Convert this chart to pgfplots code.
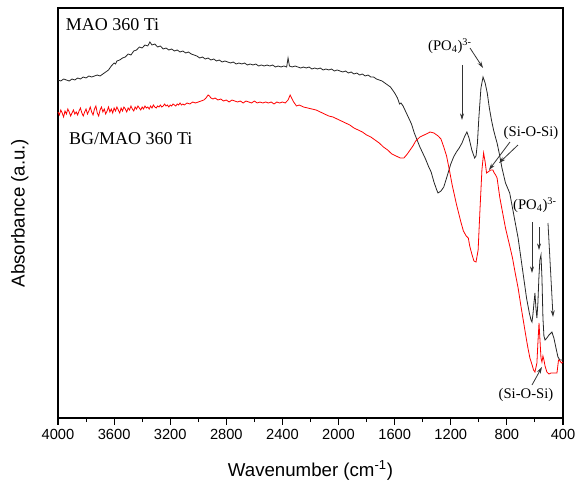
\documentclass[border=0pt]{standalone}
\usepackage{fontspec}
\setmainfont{Liberation Serif}
\setsansfont{Liberation Sans}
\usepackage{pgfplots}
\pgfplotsset{compat=1.18}
\usetikzlibrary{arrows.meta}

% FTIR spectra, y in arbitrary units
\pgfplotstableread{
w y
4000 338
3980 337
3960 339
3940 338
3920 337
3900 339
3880 338
3860 340
3840 339
3820 341
3800 340
3780 342
3760 341
3740 342
3720 343
3700 342
3680 344
3660 346
3640 348
3620 352
3600 355
3590 354
3580 357
3560 358
3540 360
3520 361
3500 364
3480 363
3460 367
3440 368
3420 371
3400 370
3380 373
3360 372
3345 376
3330 373
3310 374
3290 371
3270 372
3250 369
3230 370
3210 368
3190 369
3170 367
3150 368
3130 366
3110 367
3090 365
3070 366
3050 364
3030 363
3010 362
2990 360
2970 361
2950 359
2930 360
2910 358
2890 359
2870 357
2850 358
2830 356
2810 357
2790 356
2770 355
2750 356
2730 354
2710 355
2690 354
2670 355
2650 353
2630 354
2610 353
2590 354
2570 352
2550 353
2530 352
2510 353
2490 352
2470 353
2450 351
2430 352
2410 351
2390 352
2370 351
2360 360
2350 352
2330 351
2310 352
2290 351
2270 350
2250 351
2230 350
2210 351
2190 349
2170 350
2150 349
2130 350
2110 348
2090 349
2070 348
2050 349
2030 347
2010 348
1990 347
1970 346
1950 347
1930 345
1910 346
1890 344
1870 345
1850 343
1830 344
1810 342
1790 343
1770 341
1750 341
1730 339
1710 338
1690 337
1660 334
1630 331
1600 325
1580 320
1565 314
1555 315
1540 312
1520 306
1500 300
1480 294
1460 285
1440 278
1420 271
1400 265
1380 259
1360 252
1340 246
1320 236
1300 228
1291 225
1270 227
1250 231
1230 240
1200 254
1180 261
1160 266
1140 270
1120 275
1100 282
1085 286
1070 280
1050 268
1030 260
1020 262
1010 275
1000 300
985 330
970 341
955 335
940 325
925 310
910 298
895 288
880 280
870 275
855 265
835 250
810 235
780 225
760 210
740 195
720 180
700 160
680 140
660 120
640 105
628 98
621 96
614 104
607 115
600 125
593 110
586 100
579 115
572 140
565 158
557 163
550 140
543 100
536 82
528 78
515 80
500 83
479 86
465 80
450 70
436 61
422 58
400 58
}\maoti

\pgfplotstableread{
w y
4000 306
3990 303
3980 308
3970 305
3960 301
3950 307
3940 304
3930 309
3920 306
3910 302
3900 305
3890 308
3880 304
3870 306
3860 303
3850 307
3840 310
3830 305
3820 302
3810 306
3800 309
3790 304
3780 307
3770 311
3760 306
3750 303
3740 309
3730 312
3720 305
3710 302
3700 308
3690 311
3680 306
3670 309
3660 304
3650 307
3640 311
3630 306
3620 309
3610 305
3600 310
3590 307
3580 311
3570 308
3560 305
3550 310
3540 307
3530 311
3520 309
3510 306
3500 310
3490 308
3480 312
3470 309
3460 307
3450 311
3440 309
3430 312
3420 310
3410 308
3400 311
3390 309
3380 312
3370 310
3360 311
3350 309
3340 312
3330 310
3320 313
3310 311
3300 310
3290 312
3280 311
3270 313
3260 311
3250 312
3240 314
3230 312
3220 313
3210 311
3200 313
3190 312
3180 314
3170 313
3160 312
3150 314
3140 313
3130 315
3120 313
3110 314
3100 313
3080 315
3060 314
3040 316
3020 315
3000 316
2980 317
2960 318
2945 320
2930 323
2920 322
2910 320
2895 319
2880 320
2860 318
2840 319
2820 317
2800 318
2780 316
2760 318
2740 317
2720 316
2700 317
2680 315
2660 317
2640 316
2620 315
2600 317
2580 315
2560 316
2540 315
2520 316
2500 315
2480 316
2460 314
2440 316
2420 315
2400 316
2380 315
2360 318
2345 323
2335 320
2320 316
2300 312
2280 313
2250 311
2220 310
2190 309
2160 308
2130 306
2100 304
2070 302
2040 301
2010 299
1980 297
1950 295
1920 293
1890 290
1860 288
1830 286
1800 283
1770 281
1740 278
1710 275
1680 271
1650 268
1620 264
1590 262
1560 260
1534 260
1510 264
1490 268
1470 272
1450 277
1420 281
1390 283
1360 285
1348 286
1320 285
1290 282
1270 279
1250 271
1230 262
1210 248
1190 233
1160 214
1130 197
1110 187
1090 182
1075 180
1065 172
1050 164
1035 157
1020 156
1005 168
992 208
978 248
966 265
955 256
945 245
935 246
925 247
915 248
900 248
890 245
880 243
870 240
850 220
830 205
810 190
778 171
760 160
742 146
720 130
700 112
680 95
660 78
650 70
636 60
620 53
610 48
600 46
586 55
579 75
571 95
565 80
557 60
550 56
543 62
536 58
528 52
515 46
500 44
485 45
465 45
443 45
432 58
422 57
410 55
400 56
}\bgmaoti

\begin{document}
\begin{tikzpicture}
\begin{axis}[
scale only axis,
width=378.75pt, height=307.5pt,
xmin=400, xmax=4000, ymin=0, ymax=410,
x dir=reverse,
xtick={400,800,...,4000},
minor x tick num=1,
ytick=\empty,
xtick pos=left,
tick align=outside,
major tick length=5pt,
minor tick length=3pt,
axis line style={line width=0.9pt},
every tick/.style={line width=0.8pt,black},
/pgf/number format/1000 sep={},
/pgf/number format/assume math mode=true,
tick label style={font=\sffamily\fontsize{11}{13}\selectfont},
xlabel={Wavenumber (cm\textsuperscript{-1})},
ylabel={Absorbance (a.u.)},
label style={font=\sffamily\fontsize{14}{16}\selectfont},
xlabel style={at={(axis description cs:0.5,0)}, anchor=base, yshift=-43.5pt},
ylabel style={at={(axis description cs:-0.049,0.5)}, anchor=south},
clip=false,
]
\addplot[line width=0.6pt, black!85] table {\maoti};
\addplot[line width=0.6pt, red] table {\bgmaoti};

\node[anchor=west, font=\fontsize{13.5}{15}\selectfont] at (axis cs:3978,393) {MAO 360 Ti};
\node[anchor=west, font=\fontsize{13.5}{15}\selectfont] at (axis cs:3955,279) {BG/MAO 360 Ti};

\node[font=\fontsize{11}{13}\selectfont] at (axis cs:1206,372) {(PO\textsubscript{4})\textsuperscript{3-}};
\node[font=\fontsize{11}{13}\selectfont] at (axis cs:628,285) {(Si-O-Si)};
\node[font=\fontsize{11}{13}\selectfont] at (axis cs:600,213) {(PO\textsubscript{4})\textsuperscript{3-}};
\node[font=\fontsize{11}{13}\selectfont] at (axis cs:664,23) {(Si-O-Si)};

\begin{scope}[line width=0.6pt, black!80, -{Stealth[length=5pt,width=3pt]}]
\draw (axis cs:1120,353) -- (axis cs:1120,298);
\draw (axis cs:1063,370) -- (axis cs:970,350);
\draw (axis cs:778,276) -- (axis cs:928,248);
\draw (axis cs:721,273) -- (axis cs:856,255);
\draw (axis cs:621,196) -- (axis cs:621,145);
\draw (axis cs:571,191) -- (axis cs:571,168);
\draw (axis cs:507,195) -- (axis cs:471,101);
\draw (axis cs:621,33) -- (axis cs:550,51);
\end{scope}

\coordinate (sw) at (rel axis cs:0,0);
\coordinate (ne) at (rel axis cs:1,1);
\end{axis}
\pgfresetboundingbox
\path ([shift={(-43.5pt,-48pt)}]sw) rectangle ([shift={(9.75pt,6pt)}]ne);
\end{tikzpicture}
\end{document}
